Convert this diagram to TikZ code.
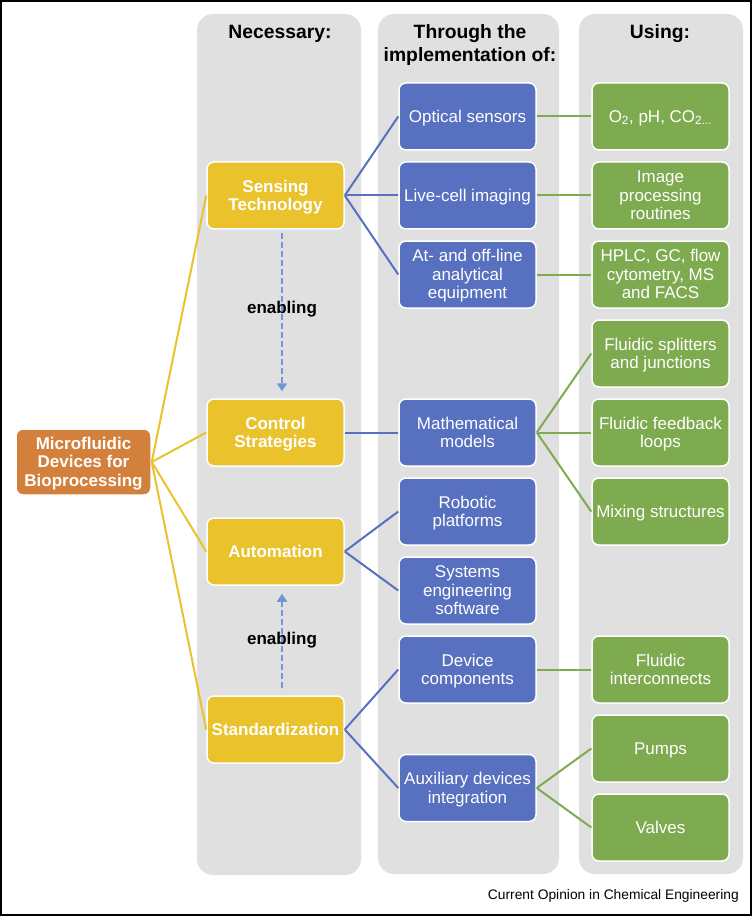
\documentclass[tikz,border=0pt]{standalone}
\usepackage{fontspec}
\setmainfont{Liberation Sans}
\usetikzlibrary{arrows.meta}
\definecolor{cyel}{RGB}{233,194,44}
\definecolor{corg}{RGB}{211,128,60}
\definecolor{cblu}{RGB}{88,112,192}
\definecolor{cgrn}{RGB}{126,170,80}
\definecolor{cgry}{RGB}{224,224,224}
\definecolor{cdash}{RGB}{115,150,218}
\newcommand\Ts{\rule{0pt}{15.4pt}}
\newcommand\Bs{\rule[-3.6pt]{0pt}{0pt}}
\tikzset{
  colbg/.style={fill=cgry, rounded corners=16pt},
  hdr/.style={font=\bfseries\fontsize{19.3}{23}\selectfont, align=center, inner sep=0pt, anchor=base},
  box/.style={draw=white, line width=1.5pt, rounded corners=7pt, minimum width=137pt,
    minimum height=67pt, align=center, text=white, inner sep=0pt,
    font=\fontsize{17}{18.5}\selectfont},
  ybox/.style={box, fill=cyel, font=\bfseries\fontsize{17}{18.5}\selectfont},
  obox/.style={box, fill=corg, minimum width=135pt, minimum height=66pt, font=\bfseries\fontsize{17}{18.5}\selectfont},
  bbox/.style={box, fill=cblu},
  gbox/.style={box, fill=cgrn},
  yline/.style={draw=cyel, line width=2pt},
  bline/.style={draw=cblu, line width=2pt},
  gline/.style={draw=cgrn, line width=2pt},
  enab/.style={draw=cdash, line width=2pt, dash pattern=on 6pt off 3pt, -{Triangle[width=10pt,length=8pt]}},
  enabtxt/.style={font=\bfseries\fontsize{17}{18.5}\selectfont, inner sep=0pt, anchor=base},
}
\begin{document}
\begin{tikzpicture}[x=1pt,y=-1pt]
\useasboundingbox (0,0) rectangle (753,917);
\draw[line width=1.5pt] (1,1) rectangle (751,915);
% column backgrounds
\fill[colbg] (197,14) rectangle (361,875);
\fill[colbg] (378,14) rectangle (559,874);
\fill[colbg] (579,14) rectangle (743,874);
% headers
\node[hdr] (h1) at (280,39) {Necessary:};
\node[hdr] (h2) at (470,62) {Through the\\implementation of:};
\node[hdr] (h3) at (660,39) {Using:};
% root
\node[obox] (root) at (83.5,462) {\Ts Microfluidic\\Devices for\\Bioprocessing\Bs};
% yellow
\node[ybox] (sens) at (275.5,195.5) {\Ts Sensing\\Technology\Bs};
\node[ybox] (ctrl) at (275.5,432.5) {\Ts Control\\Strategies\Bs};
\node[ybox] (auto) at (275.5,551.5) {\Ts Automation\Bs};
\node[ybox] (stan) at (275.5,729.5) {\Ts Standardization\Bs};
% blue
\node[bbox] (opt) at (467.5,116.5) {\Ts Optical sensors\Bs};
\node[bbox] (live) at (467.5,195.5) {\Ts Live-cell imaging\Bs};
\node[bbox] (atoff) at (467.5,274.5) {\Ts At- and off-line\\analytical\\equipment\Bs};
\node[bbox] (math) at (467.5,432.5) {\Ts Mathematical\\models\Bs};
\node[bbox] (robo) at (467.5,511.5) {\Ts Robotic\\platforms\Bs};
\node[bbox] (syse) at (467.5,590.5) {\Ts Systems\\engineering\\software\Bs};
\node[bbox] (devc) at (467.5,669.5) {\Ts Device\\components\Bs};
\node[bbox] (aux) at (467.5,788) {\Ts Auxiliary devices\\integration\Bs};
% green
\node[gbox] (o2) at (660.5,116.5) {\Ts O\textsubscript{2}, pH, CO\textsubscript{2...}\Bs};
\node[gbox] (img) at (660.5,195.5) {\Ts Image\\processing\\routines\Bs};
\node[gbox] (hplc) at (660.5,274.5) {\Ts HPLC, GC, flow\\cytometry, MS\\and FACS\Bs};
\node[gbox] (split) at (660.5,353.5) {\Ts Fluidic splitters\\and junctions\Bs};
\node[gbox] (feed) at (660.5,432.5) {\Ts Fluidic feedback\\loops\Bs};
\node[gbox] (mix) at (660.5,511.5) {\Ts Mixing structures\Bs};
\node[gbox] (inter) at (660.5,669.5) {\Ts Fluidic\\interconnects\Bs};
\node[gbox] (pump) at (660.5,748.5) {\Ts Pumps\Bs};
\node[gbox] (valv) at (660.5,827.5) {\Ts Valves\Bs};
% connectors root -> yellow
\foreach \t in {sens,ctrl,auto,stan} \draw[yline] (root.east) -- (\t.west);
% yellow -> blue
\foreach \t in {opt,live,atoff} \draw[bline] (sens.east) -- (\t.west);
\draw[bline] (ctrl.east) -- (math.west);
\foreach \t in {robo,syse} \draw[bline] (auto.east) -- (\t.west);
\foreach \t in {devc,aux} \draw[bline] (stan.east) -- (\t.west);
% blue -> green
\draw[gline] (opt.east) -- (o2.west);
\draw[gline] (live.east) -- (img.west);
\draw[gline] (atoff.east) -- (hplc.west);
\foreach \t in {split,feed,mix} \draw[gline] (math.east) -- (\t.west);
\draw[gline] (devc.east) -- (inter.west);
\foreach \t in {pump,valv} \draw[gline] (aux.east) -- (\t.west);
% enabling arrows
\draw[enab, shorten <=3pt, shorten >=7pt] ([xshift=6.5pt]sens.south) -- ([xshift=6.5pt]ctrl.north);
\draw[enab, shorten <=7pt, shorten >=8pt] ([xshift=6.5pt]stan.north) -- ([xshift=6.5pt]auto.south);
\node[enabtxt] (en1) at (282,313.5) {enabling};
\node[enabtxt] (en2) at (282,644) {enabling};
% caption
\node[font=\fontsize{13.8}{16}\selectfont, inner sep=0pt, anchor=base east] (cap) at (739,899) {Current Opinion in Chemical Engineering};
\end{tikzpicture}
\end{document}
